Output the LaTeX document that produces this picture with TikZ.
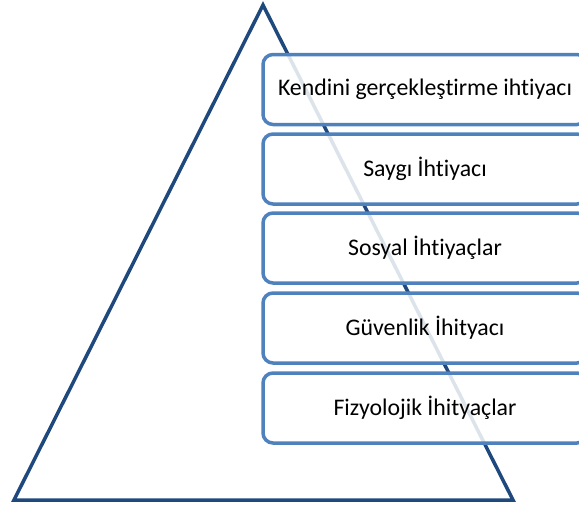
\documentclass[tikz,border=0pt]{standalone}
\usepackage{fontspec}
\setmainfont{Carlito}[Ligatures=NoCommon]
\definecolor{tri}{HTML}{1F497D}
\definecolor{boxline}{HTML}{4F81BD}
\begin{document}
\begin{tikzpicture}[x=1pt,y=-1pt,
  level/.style={draw=boxline, line width=3.5pt, rounded corners=10pt,
    fill=white, fill opacity=0.85, text opacity=1,
    minimum width=324pt, minimum height=70pt, inner sep=0pt,
    font=\fontsize{23.8}{28}\selectfont, text=black}]
\useasboundingbox (0,0) rectangle (579,509);
\clip (0,0) rectangle (579,509);
\coordinate (apex) at (263,5);
\coordinate (bl) at (14,500);
\coordinate (br) at (513,500);
\draw[tri, line width=3.5pt, line join=miter] (apex) -- (br) -- (bl) -- cycle;
\node[level] (k1) at (425,89.5) {Kendini gerçekleştirme ihtiyacı};
\node[level] (k2) at (425,169) {Saygı İhtiyacı};
\node[level] (k3) at (425,248) {Sosyal İhtiyaçlar};
\node[level] (k4) at (425,328) {Güvenlik İhityacı};
\node[level] (k5) at (425,408) {Fizyolojik İhityaçlar};
\end{tikzpicture}
\end{document}
